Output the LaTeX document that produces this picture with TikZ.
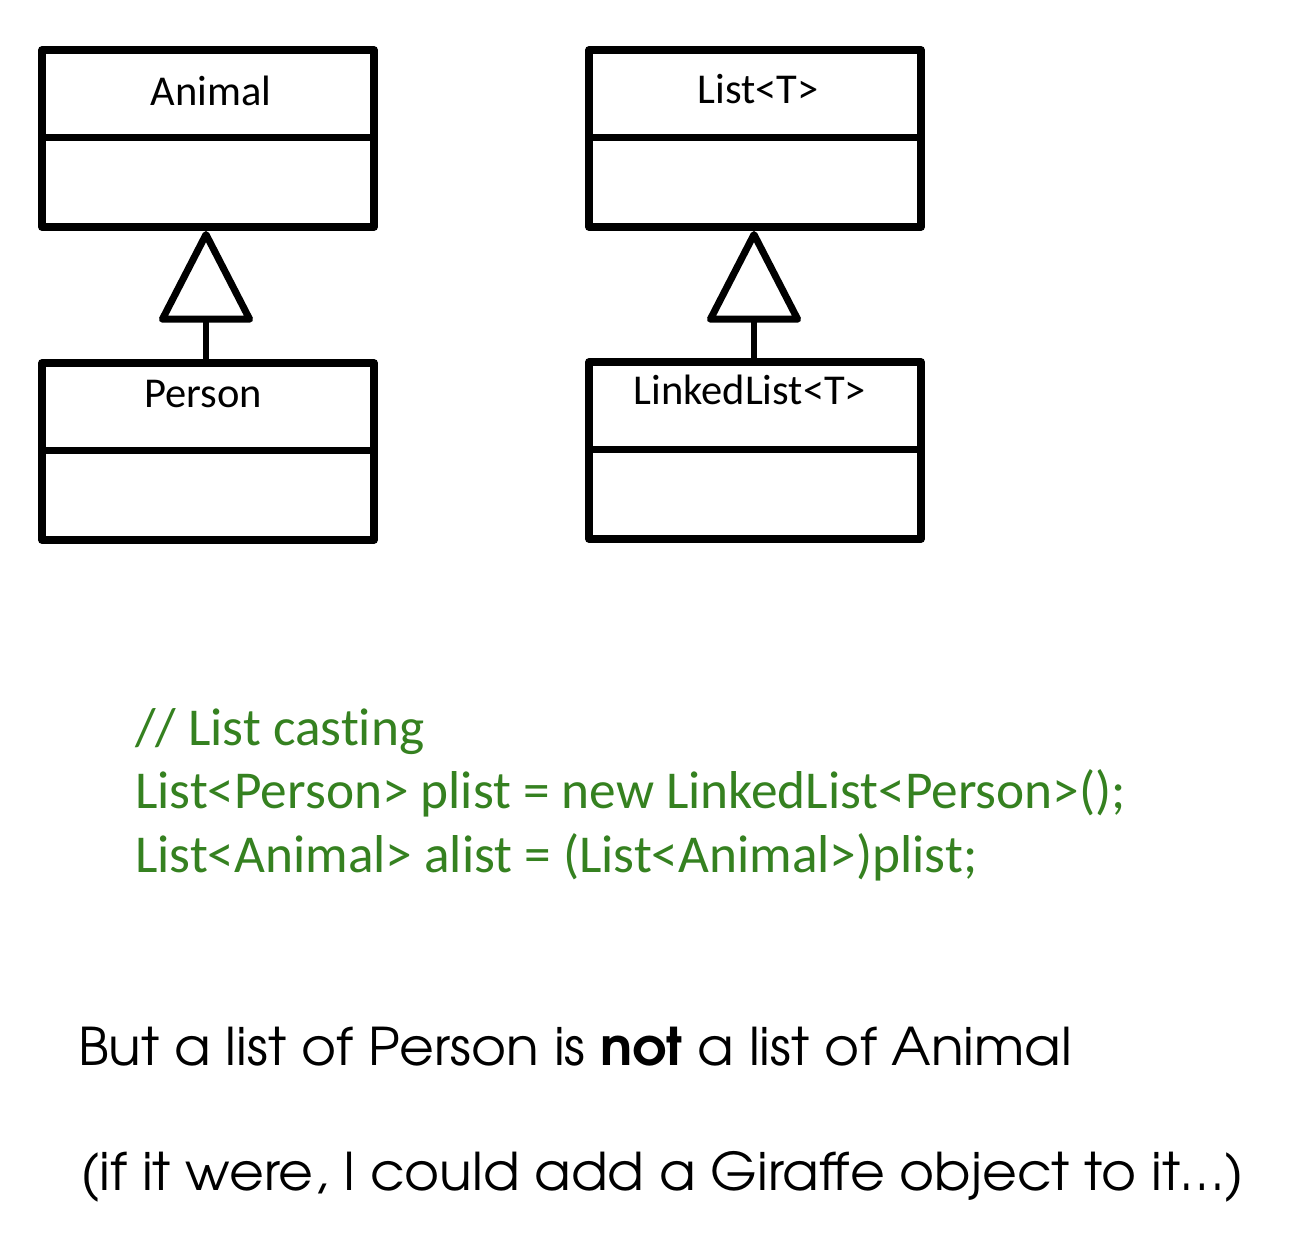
\documentclass[tikz,border=0pt]{standalone}
\usepackage{fontspec}
\setmainfont{Carlito}[Ligatures=CommonOff]
\newfontfamily\gothic{TeX Gyre Adventor}[FakeStretch=1.03]
\usetikzlibrary{arrows.meta}
\definecolor{codegreen}{RGB}{53,129,32}
\tikzset{
  umlbox/.style={draw, line width=7.5pt, line join=round, minimum width=332pt,
    minimum height=177pt, inner sep=0pt, outer sep=0pt, anchor=north west},
  divline/.style={line width=7.5pt},
  lbl/.style={inner sep=0pt, anchor=base, font=\fontsize{42.5pt}{48pt}\selectfont},
  code/.style={inner sep=0pt, anchor=base west, text=codegreen, font=\fontsize{53.3pt}{60pt}\selectfont},
  note/.style={inner sep=0pt, anchor=base west, font=\gothic\fontsize{52pt}{60pt}\selectfont},
  inherit/.style={line width=6pt, -{Triangle[open, round, length=96pt, width=97pt, line width=7pt]}}
}
\begin{document}
\begin{tikzpicture}[x=1pt, y=-1pt]
\fill[white] (0,0) rectangle (1296,1240);
\useasboundingbox (0,0) rectangle (1296,1240);

% class boxes
\node[umlbox] (animal) at (42,50) {};
\node[umlbox] (person) at (42,363) {};
\node[umlbox] (list) at (589,50) {};
\node[umlbox] (linked) at (589,362) {};

% dividers
\foreach \b in {animal, person, list, linked}{
  \draw[divline] ([yshift=-87.5pt]\b.north west) -- ([yshift=-87.5pt]\b.north east);
}

% class names
\node[lbl] (animalname) at (211,105) {Animal};
\node[lbl] (personname) at (203,407) {Person};
\node[lbl] (listname) at (758,103) {List<T>};
\node[lbl] (linkedname) at (750,404) {LinkedList<T>};

% inheritance
\draw[inherit] ([xshift=-2pt]person.north) -- ([xshift=-2pt, yshift=-4pt]animal.south);
\draw[inherit] ([xshift=-1pt]linked.north) -- ([xshift=-1pt, yshift=-4pt]list.south);

% code
\node[code] (c1) at (135,745) {// List casting};
\node[code] (c2) at (135,808) {List<Person> plist = new LinkedList<Person>();};
\node[code] (c3) at (135,872) {List<Animal> alist = (List<Animal>)plist;};

% notes
\node[note] (n1) at (78,1065) {But a list of Person is \textbf{not} a list of Animal};
\node[note] (n2) at (80,1190) {(if it were, I could add a Giraffe object to it…)};
\end{tikzpicture}
\end{document}
